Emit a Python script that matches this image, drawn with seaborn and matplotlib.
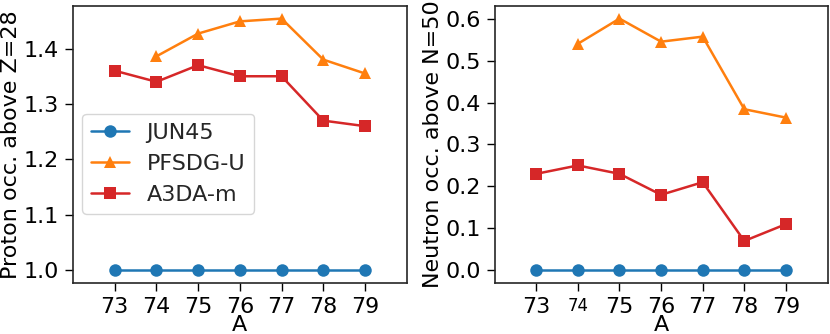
import seaborn as sns
import matplotlib.pyplot as plt
import pandas as pd

# mass numbers and model results
mass = [73, 74, 75, 76, 77, 78, 79]
models = ["JUN45", "PFSDG-U", "A3DA-m"]

proton_jun45 = [1.0, 1.0, 1.0, 1.0, 1.0, 1.0, 1.0]
proton_pfsdg = [None, 1.386, 1.427, 1.449, 1.454, 1.380, 1.355]
proton_a3da = [1.36, 1.34, 1.37, 1.35, 1.35, 1.27, 1.26]

neutron_jun45 = [0.0, 0.0, 0.0, 0.0, 0.0, 0.0, 0.0]
neutron_pfsdg = [None, 0.540, 0.600, 0.545, 0.557, 0.384, 0.364]
neutron_a3da = [0.23, 0.25, 0.23, 0.18, 0.21, 0.07, 0.11]

colors = ["#1f77b4", "#ff7f0e", "#d62728"]
markers = ["o", "^", "s"]


# Build a long table for one panel, skipping missing points
def make_frame(series):
    rows = []
    for name, values in zip(models, series):
        for a, v in zip(mass, values):
            if v is not None:
                rows.append({"A": a, "value": v, "model": name})
    return pd.DataFrame(rows)


sns.set_style("ticks")
plt.rcParams["font.family"] = ["DejaVu Sans"]
plt.rcParams["font.size"] = 16

fig = plt.figure(figsize=(8.3, 3.34), dpi=100)
ax1 = fig.add_axes([0.088, 0.153, 0.402, 0.829])
ax2 = fig.add_axes([0.596, 0.153, 0.401, 0.829])

panels = [
    (ax1, [proton_jun45, proton_pfsdg, proton_a3da], "Proton occ. above Z=28"),
    (ax2, [neutron_jun45, neutron_pfsdg, neutron_a3da], "Neutron occ. above N=50"),
]

for ax, series, ylabel in panels:
    df = make_frame(series)
    sns.lineplot(data=df, x="A", y="value", hue="model", style="model",
                 hue_order=models, style_order=models, palette=colors,
                 markers=markers, dashes=False, markersize=9, linewidth=1.8,
                 markeredgewidth=0, ax=ax, legend=(ax is ax1))
    ax.set_xlim(72, 80)
    ax.set_xticks(mass, labels=[str(m) for m in mass])
    ax.set_xlabel("A", fontsize=16, labelpad=-1, color="black")
    ax.set_ylabel(ylabel, fontsize=16, labelpad=2, color="black")
    ax.tick_params(labelsize=16, length=6, width=1, colors="black", pad=4)
    for s in ax.spines.values():
        s.set_color("0.15")
        s.set_linewidth(1.2)

ax1.set_yticks([1.0, 1.1, 1.2, 1.3, 1.4])
ax2.set_yticks([0.0, 0.1, 0.2, 0.3, 0.4, 0.5, 0.6])

# the "74" label on the right panel is printed smaller in the original
for lab in ax2.get_xticklabels():
    if lab.get_text() == "74":
        lab.set_fontsize(12)

leg = ax1.legend(loc="lower left", bbox_to_anchor=(-0.006, 0.209), fontsize=16,
                 frameon=True, handlelength=1.7)
leg.set_title(None)

fig.savefig("out.png", dpi=100)
